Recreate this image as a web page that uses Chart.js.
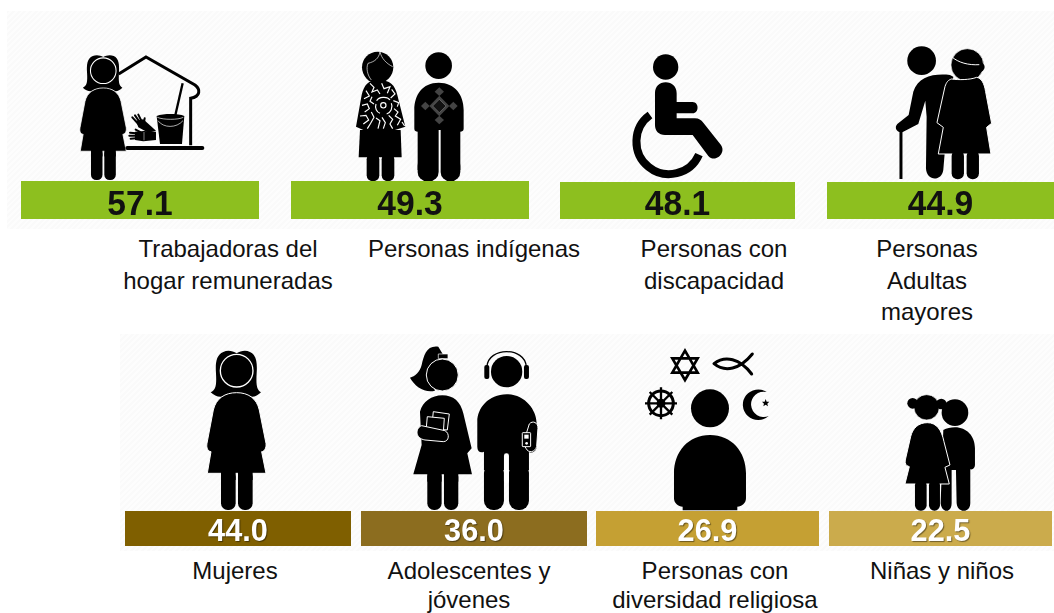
<!DOCTYPE html>
<html>
<head>
<meta charset="utf-8">
<script src="https://cdn.jsdelivr.net/npm/chart.js@4"></script>
<style>
html, body { margin: 0; padding: 0; background: #fff; }
#page { position: relative; width: 1054px; height: 613px; overflow: hidden; font-family: "Liberation Sans", Arial, sans-serif; }
.panel { position: absolute; background: repeating-linear-gradient(135deg, #fafafa 0 2px, #fdfdfd 2px 4px); }
.bar { position: absolute; }
.bar canvas { display: block; }
.label { position: absolute; transform: translateX(-50%); text-align: center; white-space: pre; font-size: 24px; color: #111; }
svg { position: absolute; left: 0; top: 0; }
</style>
</head>
<body>
<div id="page">
<div class="panel" style="left:7px;top:11px;width:1047px;height:218px"></div>
<div class="panel" style="left:120px;top:334px;width:934px;height:217px"></div>

<svg width="1054" height="613" viewBox="0 0 1054 613">
<defs>
  <g id="woman">
    <path d="M340 66C352 60 368 62 380 70C392 62 408 60 420 66C440 75 442 100 440 130C438 165 440 180 453 187C440 200 425 205 415 195L345 195C335 205 315 200 302 187C318 180 320 165 318 130C316 100 318 75 340 66Z"/>
    <circle cx="380" cy="122" r="49" stroke="#fff" stroke-width="4"/>
    <path d="M380 188C415 188 440 205 448 240L468 340C470 355 462 365 455 365L468 430L292 430L303 365C295 365 288 355 291 340L310 240C318 205 345 188 380 188Z" stroke="#fff" stroke-width="3"/>
    <rect x="333" y="420" width="44" height="120" rx="20"/>
    <rect x="384" y="420" width="44" height="120" rx="20"/>
    <rect x="333" y="420" width="44" height="30"/>
    <rect x="384" y="420" width="44" height="30"/>
  </g>
</defs>

<!-- trabajadoras del hogar -->
<use href="#woman" transform="translate(3.9 38.8) scale(.2615)"/>
<g transform="scale(.3333)">
  <path d="M356 222L438 171L585 255C602 268 602 290 572 295L572 436" fill="none" stroke="#000" stroke-width="9"/>
  <path d="M382 444H607" fill="none" stroke="#000" stroke-width="12" stroke-linecap="round"/>
  <path d="M548 250L525 350" stroke="#000" stroke-width="7"/>
  <path d="M470 348C490 340 535 340 553 348L546 432H480Z"/>
  <path d="M472 352C490 360 535 360 550 352" fill="none" stroke="#fff" stroke-width="2"/>
  <path d="M474 362C490 385 530 385 549 362" fill="none" stroke="#fff" stroke-width="2"/>
  <path d="M408 362L430 358L468 392L445 398L415 382Z"/>
  <path d="M415 372L397 352M420 368L405 346M426 366L415 344M432 368L434 355" stroke="#000" stroke-width="6" stroke-linecap="round"/>
  <path d="M405 395L432 393L468 395V420L430 424L405 420Z"/>
  <path d="M408 400L390 398M408 407L388 407M408 415L392 416M420 396L407 389" stroke="#000" stroke-width="6" stroke-linecap="round"/>
  <path d="M432 396V421" stroke="#fff" stroke-width="1.5"/>
</g>

<!-- personas indigenas -->
<g transform="translate(280 30) scale(.3333)">
  <circle cx="293" cy="112" r="47"/>
  <path d="M250 125C255 140 262 150 272 155L262 128Z"/>
  <path d="M300 66C296 85 285 95 264 100C258 115 262 135 274 150M300 66C305 85 318 100 338 110" fill="none" stroke="#fff" stroke-width="2"/>
  <path d="M295 150C330 150 345 165 352 195L376 290L345 300H250L228 290L245 195C252 165 265 150 295 150Z"/>
  <g fill="none" stroke="#fff" stroke-width="3.5">
    <circle cx="310" cy="226" r="8"/>
    <path d="M290 212C296 200 322 198 330 210M334 220C340 232 332 248 320 252M300 250C290 246 284 234 288 222"/>
    <path d="M270 160L282 172L276 186L292 180L300 192M305 160L312 176L330 170L322 190M335 178L345 192L332 204M258 182L268 198L252 206M276 200L270 214L282 222"/>
    <path d="M246 226L262 222L268 236L254 246M240 258L258 256L266 270L250 282M274 246L282 262L272 280L262 296"/>
    <path d="M288 264L300 272L294 296M306 262L316 278L310 296M326 256L338 268L330 282L338 296"/>
    <path d="M342 236L354 246L346 258L362 268L352 286M340 212L356 218L352 230M366 276L374 288"/>
  </g>
  <path d="M240 300H362L365 382H236Z"/>
  <rect x="260" y="370" width="38" height="84" rx="18"/>
  <rect x="305" y="370" width="38" height="84" rx="18"/>
  <circle cx="476" cy="107" r="40"/>
  <path d="M476 158C525 158 551 195 551 240V296C551 303 546 305 541 305V420H413V305C408 305 403 303 403 296V240C403 195 427 158 476 158Z"/>
  <rect x="413" y="380" width="63" height="74" rx="28"/>
  <rect x="482" y="380" width="59" height="74" rx="28"/>
  <path d="M476 300H482V420H476Z" fill="#fff"/>
  <g fill="#444">
    <path d="M478 197L508 228L478 259L448 228Z"/>
    <path d="M478 172L492 185L478 198L464 185Z"/>
    <path d="M478 257L492 270L478 283L464 270Z"/>
    <path d="M436 215L449 228L436 241L423 228Z"/>
    <path d="M520 215L533 228L520 241L507 228Z"/>
  </g>
  <path d="M478 208L498 228L478 248L458 228Z" fill="#111" stroke="#777" stroke-width="2"/>
</g>

<!-- discapacidad -->
<g transform="translate(550 30) scale(.3333)">
  <circle cx="347" cy="111" r="38"/>
  <path d="M347 157C366 157 380 170 380 190V216H428C448 216 448 250 428 250H380V265H435C447 265 453 270 460 278L513 345C530 370 495 400 475 378L428 315H345C326 315 315 302 315 285V190C315 170 328 157 347 157Z"/>
  <path d="M300 255A98 98 0 1 0 447 374" fill="none" stroke="#000" stroke-width="24"/>
</g>

<!-- adultas mayores -->
<g transform="translate(550 30) scale(.3333)">
  <circle cx="1115" cy="92" r="43"/>
  <path d="M1200 135C1150 130 1105 140 1090 185L1076 255L1042 282C1030 295 1045 312 1060 305L1105 282L1126 212L1130 260L1128 415C1130 455 1175 455 1180 420L1190 300L1210 140Z"/>
  <path d="M1053 300V447" stroke="#000" stroke-width="9"/>
  <circle cx="1252" cy="105" r="49" stroke="#fff" stroke-width="2"/>
  <circle cx="1290" cy="111" r="14"/>
  <path d="M1205 80C1225 98 1255 106 1288 104" fill="none" stroke="#fff" stroke-width="3"/>
  <path d="M1205 147C1225 150 1260 150 1280 142C1295 145 1303 160 1307 185L1325 280L1310 292L1323 372H1165L1180 292L1161 278L1185 170C1190 155 1195 150 1205 147Z" stroke="#fff" stroke-width="3"/>
  <rect x="1205" y="360" width="37" height="88" rx="18"/>
  <rect x="1250" y="360" width="37" height="88" rx="18"/>
</g>

<!-- mujeres -->
<use href="#woman" transform="translate(110 330) scale(.3333)"/>

<!-- adolescentes y jovenes -->
<g transform="translate(110 330) scale(.3333)">
  <path d="M985 50C950 45 942 75 935 105C930 125 915 140 900 143C915 170 945 190 975 182L955 130L1000 75Z"/>
  <path d="M985 72H1014V86H985Z" stroke="#fff" stroke-width="2"/>
  <circle cx="997" cy="135" r="48" stroke="#fff" stroke-width="3"/>
  <path d="M997 196C1030 196 1052 215 1060 250L1085 355L1072 370L1086 433H910L935 345L930 245C938 215 965 196 997 196Z"/>
  <rect x="952" y="420" width="43" height="120" rx="20"/>
  <rect x="1002" y="420" width="43" height="120" rx="20"/>
  <rect x="952" y="425" width="43" height="30"/>
  <rect x="1002" y="425" width="43" height="30"/>
  <path d="M970 245L1018 252L1012 300L965 296Z" stroke="#fff" stroke-width="3"/>
  <path d="M952 260L1003 265L1000 308L948 304Z" stroke="#fff" stroke-width="3"/>
  <path d="M935 287L1005 302C1020 310 1018 335 1000 335L945 330C915 325 915 295 935 287Z" stroke="#fff" stroke-width="3"/>
  <circle cx="1190" cy="125" r="47"/>
  <path d="M1131 110C1135 50 1245 50 1249 110" fill="none" stroke="#000" stroke-width="4"/>
  <rect x="1123" y="105" width="15" height="42" rx="6"/>
  <rect x="1242" y="105" width="15" height="42" rx="6"/>
  <path d="M1190 193C1245 193 1280 240 1280 280V350C1280 365 1262 372 1257 365V420H1122V365C1112 370 1102 365 1102 350V275C1102 235 1135 193 1190 193Z"/>
  <rect x="1122" y="400" width="60" height="140" rx="28"/>
  <rect x="1197" y="400" width="60" height="140" rx="28"/>
  <rect x="1182" y="370" width="15" height="90" rx="7" fill="#fff"/>
  <path d="M1258 282C1268 270 1285 278 1284 295L1280 350C1275 368 1255 370 1248 355L1240 340L1258 282Z" stroke="#fff" stroke-width="3"/>
  <rect x="1237" y="308" width="25" height="42" rx="2" stroke="#fff" stroke-width="3"/>
  <rect x="1243" y="314" width="13" height="12" fill="#fff"/>
  <circle cx="1250" cy="340" r="4" fill="#fff"/>
</g>

<!-- diversidad religiosa -->
<g transform="translate(590 330) scale(.3333)">
  <path d="M285 62L323 128H247ZM285 150L323 85H247Z" fill="none" stroke="#000" stroke-width="8"/>
  <path d="M372 101C405 75 450 85 485 132M372 101C405 128 450 118 487 72" fill="none" stroke="#000" stroke-width="9" stroke-linecap="round"/>
  <circle cx="213" cy="220" r="37" fill="none" stroke="#000" stroke-width="9"/>
  <circle cx="213" cy="220" r="10" fill="none" stroke="#000" stroke-width="7"/>
  <path d="M213 172V268M165 220H261M179 186L247 254M247 186L179 254" stroke="#000" stroke-width="7"/>
  <circle cx="360" cy="235" r="57"/>
  <path d="M360 315C425 315 468 365 468 430V505C468 520 455 530 442 530V541H278V530C265 530 252 520 252 505V430C252 365 295 315 360 315Z"/>
  <path d="M530 186A46 46 0 1 0 536 258A38 38 0 1 1 530 186Z"/>
  <path d="M527 207L530 215L538 215L532 221L534 229L527 224L520 229L522 221L516 215L524 215Z"/>
</g>

<!-- ninas y ninos -->
<g transform="translate(590 330) scale(.3333)">
  <circle cx="1095" cy="248" r="40"/>
  <path d="M1095 292C1130 292 1155 318 1155 355V405C1155 412 1150 420 1141 418V520C1141 550 1102 550 1100 520L1098 420H1085V520C1085 550 1055 550 1052 520L1060 300C1070 295 1082 292 1095 292Z"/>
  <circle cx="1010" cy="232" r="38" stroke="#fff" stroke-width="2"/>
  <circle cx="968" cy="220" r="16"/>
  <circle cx="1054" cy="222" r="16"/>
  <path d="M1012 278C1040 278 1055 300 1062 335L1080 405L1065 412L1078 462H945L958 410C948 408 944 400 946 390L962 320C968 295 985 278 1012 278Z" stroke="#fff" stroke-width="3"/>
  <rect x="975" y="450" width="35" height="92" rx="16"/>
  <rect x="1017" y="450" width="33" height="92" rx="16"/>
</g>
</svg>

<div id="bars"></div>
</div>

<script>
const categories = [
    'Trabajadoras del\nhogar remuneradas',
    'Personas indígenas',
    'Personas con\ndiscapacidad',
    'Personas\nAdultas\nmayores',
    'Mujeres',
    'Adolescentes y\njóvenes',
    'Personas con\ndiversidad religiosa',
    'Niñas y niños',
];
const values = [57.1, 49.3, 48.1, 44.9, 44.0, 36.0, 26.9, 22.5];
const barColors = ['#8dbf1f', '#8dbf1f', '#8dbf1f', '#8dbf1f', '#7f5f00', '#8c6d1f', '#c5a033', '#cbab4c'];
const textColors = ['#111', '#111', '#111', '#111', '#fff', '#fff', '#fff', '#fff'];

// left, top, width, height of each small chart on the page
const boxes = [
    [21, 181, 238, 38],
    [291, 181, 238, 38],
    [560, 182, 235, 37],
    [827, 182, 227, 37],
    [125, 511, 226, 35],
    [361, 511, 226, 35],
    [596, 511, 223, 35],
    [829, 511, 223, 35],
];
// centre x, top and line height of each caption
const captions = [
    [228, 233, 31.5],
    [474, 233, 31.5],
    [714, 233, 31.5],
    [927, 233, 31.5],
    [235, 557, 28.5],
    [469, 557, 28.5],
    [715, 557, 28.5],
    [942, 557, 28.5],
];

// the bars in the source all have the same height, so each small chart
// gets its own axis that ends at its value
const valueLabel = {
    id: 'valueLabel',
    afterDatasetsDraw(chart, args, opts) {
        const bar = chart.getDatasetMeta(0).data[0];
        const ctx = chart.ctx;
        ctx.save();
        ctx.font = 'bold ' + opts.size + 'px "Liberation Sans", Arial, sans-serif';
        ctx.textAlign = 'center';
        ctx.textBaseline = 'alphabetic';
        if (opts.color === '#fff') {
            ctx.shadowColor = 'rgba(0,0,0,0.45)';
            ctx.shadowOffsetX = 1;
            ctx.shadowOffsetY = 1;
            ctx.shadowBlur = 1;
        }
        ctx.fillStyle = opts.color;
        // source digits are a bit narrower than the font
        ctx.translate(bar.x, chart.height - opts.drop);
        ctx.scale(0.96, 1);
        ctx.fillText(chart.data.datasets[0].data[0].toFixed(1), 0, 0);
        ctx.restore();
    }
};

const barsDiv = document.getElementById('bars');
const page = document.getElementById('page');

categories.forEach((cat, i) => {
    const box = boxes[i];
    const div = document.createElement('div');
    div.className = 'bar';
    div.style.left = box[0] + 'px';
    div.style.top = box[1] + 'px';
    const canvas = document.createElement('canvas');
    canvas.width = box[2];
    canvas.height = box[3];
    div.appendChild(canvas);
    barsDiv.appendChild(div);

    new Chart(canvas, {
        type: 'bar',
        data: {
            labels: [cat.replace(/\n/g, ' ')],
            datasets: [{
                data: [values[i]],
                backgroundColor: barColors[i],
                barPercentage: 1,
                categoryPercentage: 1,
            }]
        },
        options: {
            responsive: false,
            animation: false,
            layout: { padding: 0 },
            scales: {
                x: { display: false },
                y: { display: false, min: 0, max: values[i] },
            },
            plugins: {
                legend: { display: false },
                tooltip: { enabled: false },
                valueLabel: {
                    color: textColors[i],
                    size: i < 4 ? 35 : 32,
                    drop: i < 4 ? 4 : 5,
                },
            }
        },
        plugins: [valueLabel]
    });

    const label = document.createElement('div');
    label.className = 'label';
    label.style.left = captions[i][0] + 'px';
    label.style.top = captions[i][1] + 'px';
    label.style.lineHeight = captions[i][2] + 'px';
    label.textContent = cat;
    page.appendChild(label);
});
</script>
</body>
</html>
